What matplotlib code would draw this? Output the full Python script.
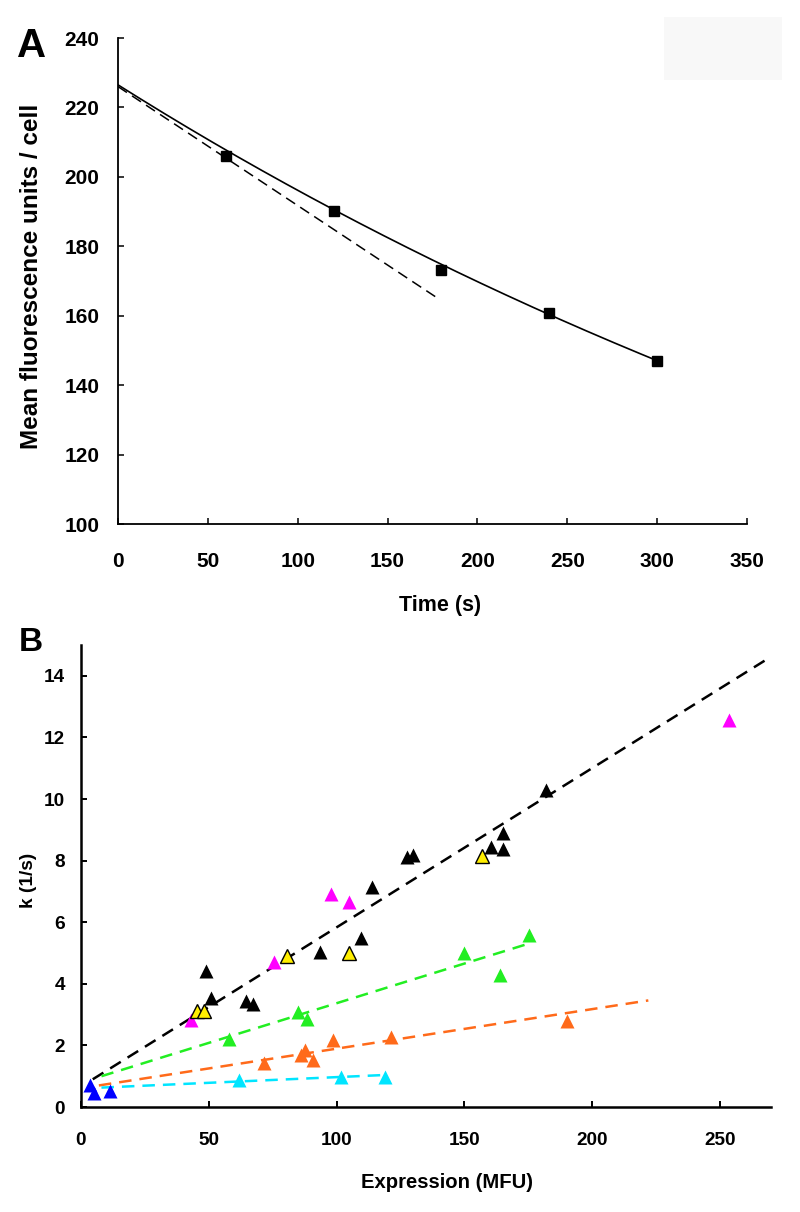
import numpy as np
import matplotlib
matplotlib.use("Agg")
import matplotlib.pyplot as plt
from matplotlib.patches import Rectangle

plt.rcParams['font.family'] = ['Liberation Sans', 'DejaVu Sans']
plt.rcParams['font.weight'] = 'bold'

# ---- panel A: decay of fluorescence ----
time_s = [60, 120, 180, 240, 300]
mfu_cell = [206, 190.2, 173.2, 160.8, 147]
# exponential fit
fit_a0 = 226.5
fit_k = 0.00144
# initial-rate tangent (dashed)
tangent_t = [0, 178]
tangent_y = [226, 165]

# ---- panel B: k vs expression ----
black_x = [49, 51, 64.6, 67.4, 93.6, 109.4, 113.8, 127.4, 130, 160.4, 165, 165, 182]
black_y = [4.40, 3.55, 3.43, 3.36, 5.04, 5.48, 7.13, 8.12, 8.19, 8.43, 8.88, 8.38, 10.28]
magenta_x = [43, 75.6, 98, 104.8, 253.4]
magenta_y = [2.82, 4.72, 6.92, 6.66, 12.56]
yellow_x = [45.2, 48, 80.6, 104.8, 156.8]
yellow_y = [3.11, 3.11, 4.91, 4.99, 8.15]
green_x = [58, 84.8, 88.6, 150, 164, 175.2]
green_y = [2.22, 3.08, 2.86, 4.99, 4.29, 5.58]
orange_x = [71.6, 86, 87.6, 90.8, 98.8, 121.4, 190]
orange_y = [1.43, 1.68, 1.84, 1.52, 2.16, 2.26, 2.79]
cyan_x = [62, 101.8, 118.8]
cyan_y = [0.89, 0.99, 0.99]
blue_x = [3.6, 5.2, 11.4]
blue_y = [0.72, 0.44, 0.53]

# fitted lines (end points)
black_fit_x = [4.6, 270]
black_fit_y = [0.90, 14.62]
green_fit_x = [8, 175]
green_fit_y = [1.0, 5.3]
orange_fit_x = [7, 222]
orange_fit_y = [0.70, 3.46]
cyan_fit_x = [8, 119]
cyan_fit_y = [0.63, 1.04]

fig = plt.figure(figsize=(8, 12.12), dpi=100)

# faint box top right (left over in the source figure)
fig.patches.append(Rectangle((664 / 800, 1 - 80 / 1212), 118 / 800, 63 / 1212,
                             transform=fig.transFigure, facecolor='#f8f8f8',
                             edgecolor='none', zorder=0))

axA = fig.add_axes([118 / 800, 1 - 524 / 1212, (747 - 118) / 800, (524 - 38) / 1212])
axB = fig.add_axes([81 / 800, 1 - 1107 / 1212, (771 - 81) / 800, (1107 - 645) / 1212])

# panel A
tt = np.linspace(0, 300, 200)
axA.plot(tt, fit_a0 * np.exp(-fit_k * tt), color='black', lw=1.2)
axA.plot(tangent_t, tangent_y, color='black', lw=1.1, dashes=(7, 4))
axA.plot(time_s, mfu_cell, 's', color='black', ms=7)
axA.set_xlim(0, 350)
axA.set_ylim(100, 240)
axA.set_xticks(range(0, 351, 50))
axA.set_yticks(range(100, 241, 20))
axA.set_xlabel('Time (s)', fontsize=15.5, fontweight='bold')
axA.set_ylabel('Mean fluorescence units / cell', fontsize=17.5, fontweight='bold')
axA.xaxis.set_label_coords(440 / 800, 1 - 605 / 1212, transform=fig.transFigure)
axA.yaxis.set_label_coords(32 / 800, 1 - 276 / 1212, transform=fig.transFigure)
axA.tick_params(direction='in', length=4.5, width=1.1, labelsize=15, pad=13.5)
axA.tick_params(axis='x', pad=20)
for side in ['top', 'right']:
    axA.spines[side].set_visible(False)
for side in ['left', 'bottom']:
    axA.spines[side].set_linewidth(1.3)

# panel B
dash_b = (5, 3.2)
axB.plot(black_fit_x, black_fit_y, color='black', lw=1.8, dashes=dash_b, zorder=2)
axB.plot(green_fit_x, green_fit_y, color='#22ee22', lw=1.8, dashes=dash_b, zorder=2)
axB.plot(orange_fit_x, orange_fit_y, color='#ff6a1a', lw=1.8, dashes=dash_b, zorder=2)
axB.plot(cyan_fit_x, cyan_fit_y, color='#00e5ff', lw=1.8, dashes=dash_b, zorder=2)

ms = 10.5
axB.plot(black_x, black_y, '^', color='black', ms=ms, mec='none', zorder=3)
axB.plot(magenta_x, magenta_y, '^', color='#ff00ff', ms=ms, mec='none', zorder=3)
axB.plot(green_x, green_y, '^', color='#22ee22', ms=ms, mec='none', zorder=3)
axB.plot(orange_x, orange_y, '^', color='#ff6a1a', ms=ms, mec='none', zorder=3)
axB.plot(cyan_x, cyan_y, '^', color='#00e5ff', ms=ms, mec='none', zorder=3)
axB.plot(blue_x, blue_y, '^', color='#0000ff', ms=ms, mec='none', zorder=3)
axB.plot(yellow_x, yellow_y, '^', color='#ffee00', ms=ms - 1, mec='black', mew=1.0, zorder=4)

axB.set_xlim(0, 270)
axB.set_ylim(0, 15)
axB.set_xticks(range(0, 251, 50))
axB.set_yticks(range(0, 15, 2))
axB.set_xlabel('Expression (MFU)', fontsize=14.6, fontweight='bold')
axB.set_ylabel('k (1/s)', fontsize=13.7, fontweight='bold')
axB.xaxis.set_label_coords(447 / 800, 1 - 1183 / 1212, transform=fig.transFigure)
axB.yaxis.set_label_coords(29 / 800, 1 - 880 / 1212, transform=fig.transFigure)
axB.tick_params(direction='in', length=4.5, width=1.4, labelsize=13.7, pad=11.5)
axB.tick_params(axis='x', pad=18)
for side in ['top', 'right']:
    axB.spines[side].set_visible(False)
for side in ['left', 'bottom']:
    axB.spines[side].set_linewidth(1.8)

for ax in (axA, axB):
    ax.xaxis.label.set_va('center')
    ax.yaxis.label.set_va('center')

fig.text(17 / 800, 1 - 57 / 1212, 'A', fontsize=29, fontweight='bold', va='baseline', ha='left')
fig.text(19 / 800, 1 - 651 / 1212, 'B', fontsize=24, fontweight='bold', va='baseline', ha='left')

fig.savefig('out.png', dpi=100)
